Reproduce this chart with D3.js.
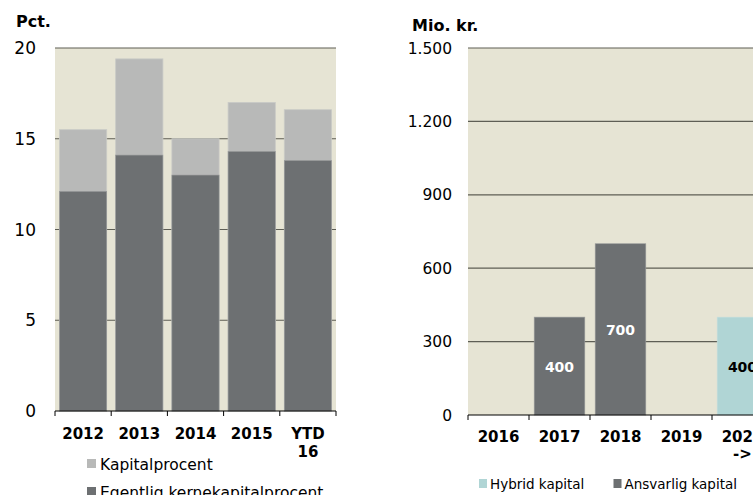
<!DOCTYPE html>
<html>
<head>
<meta charset="utf-8">
<style>
  body { margin: 0; background: #fff; }
  svg { display: block; font-family: "DejaVu Sans", Verdana, sans-serif; }
</style>
<script src="https://d3js.org/d3.v7.min.js"></script>
</head>
<body>
<svg id="chart" width="753" height="495"></svg>
<script>
  // left chart data
  var years = ["2012", "2013", "2014", "2015", "YTD 16"]
  var kapitalprocent = [15.5, 19.4, 15.0, 17.0, 16.6]
  var kernekapital = [12.1, 14.1, 13.0, 14.3, 13.8]
  var leftTicks = [0, 5, 10, 15, 20]

  // right chart data
  var expiry = ["2016", "2017", "2018", "2019", "2020 ->"]
  var hybrid = [0, 0, 0, 0, 400]
  var ansvarlig = [0, 400, 700, 0, 0]
  var rightTicks = [0, 300, 600, 900, 1200, 1500]

  var bg = "#e6e4d4", lightGrey = "#b8b9b8", darkGrey = "#6d7072", teal = "#b0d5d5", grid = "#5e5e55"

  var svg = d3.select("#chart")

  function multiLine(sel, lineH) {
    sel.each(function (d) {
      var t = d3.select(this), parts = d.split(" ")
      t.text(null)
      parts.forEach(function (p, i) {
        t.append("tspan").attr("x", 0).attr("dy", i == 0 ? 0 : lineH).text(p)
      })
    })
  }

  // ---------- left chart ----------
  var L = {x0: 55, x1: 336, y0: 411, y1: 48}
  var xl = d3.scaleBand().domain(years).range([L.x0, L.x1]).paddingInner(0.16).paddingOuter(0.08)
  var yl = d3.scaleLinear().domain([0, 20]).range([L.y0, L.y1])
  var gl = svg.append("g")

  gl.append("rect").attr("x", L.x0).attr("y", L.y1).attr("width", L.x1 - L.x0).attr("height", L.y0 - L.y1).attr("fill", bg)
  gl.selectAll(".grid").data(leftTicks.slice(1)).enter().append("line")
    .attr("x1", L.x0).attr("x2", L.x1).attr("y1", d => yl(d)).attr("y2", d => yl(d))
    .attr("stroke", grid).attr("stroke-width", 1.2)

  gl.selectAll(".tot").data(years).enter().append("rect")
    .attr("x", d => xl(d)).attr("width", xl.bandwidth())
    .attr("y", (d, i) => yl(kapitalprocent[i])).attr("height", (d, i) => yl(0) - yl(kapitalprocent[i]))
    .attr("fill", lightGrey).attr("stroke", "#c9cac6").attr("stroke-width", 0.8)
  gl.selectAll(".core").data(years).enter().append("rect")
    .attr("x", d => xl(d)).attr("width", xl.bandwidth())
    .attr("y", (d, i) => yl(kernekapital[i])).attr("height", (d, i) => yl(0) - yl(kernekapital[i]))
    .attr("fill", darkGrey).attr("stroke", "#9a9c9c").attr("stroke-width", 0.6)

  // y axis labels
  gl.selectAll(".ytick").data(leftTicks).enter().append("text")
    .attr("x", 36).attr("y", d => yl(d) + 6).attr("text-anchor", "end")
    .attr("font-size", 17).attr("fill", "#000").text(d => d)
  gl.append("text").attr("x", 16).attr("y", 27).attr("font-size", 16).attr("font-weight", "bold").text("Pct.")

  // x axis
  var xaxL = gl.append("g").attr("transform", "translate(0," + L.y0 + ")")
  xaxL.append("line").attr("x1", L.x0).attr("x2", L.x1).attr("stroke", "#000")
  var bl = d3.range(years.length + 1).map(i => L.x0 + i * (L.x1 - L.x0) / years.length)
  xaxL.selectAll(".tk").data(bl).enter().append("line")
    .attr("x1", d => d).attr("x2", d => d).attr("y1", 0).attr("y2", 5).attr("stroke", "#000")
  xaxL.selectAll(".lab").data(years).enter().append("g")
    .attr("transform", d => "translate(" + (xl(d) + xl.bandwidth() / 2) + ",27.5)")
    .append("text").attr("text-anchor", "middle").attr("font-size", 15).attr("font-weight", "bold")
    .call(multiLine, 18)

  // legend left
  var legL = [{name: "Kapitalprocent", c: lightGrey}, {name: "Egentlig kernekapitalprocent", c: darkGrey}]
  var lg = gl.selectAll(".leg").data(legL).enter().append("g")
    .attr("transform", (d, i) => "translate(87," + (459 + i * 28) + ")")
  lg.append("rect").attr("width", 9).attr("height", 9).attr("fill", d => d.c)
  lg.append("text").attr("x", 13).attr("y", 10.5).attr("font-size", 15.5).text(d => d.name)

  // ---------- right chart ----------
  var R = {x0: 468, y0: 415, y1: 48}
  var bandW = 61
  var xr = d3.scaleBand().domain(expiry).range([R.x0, R.x0 + bandW * expiry.length]).paddingInner(0.17).paddingOuter(0.085)
  var yr = d3.scaleLinear().domain([0, 1500]).range([R.y0, R.y1])
  var gr = svg.append("g")
  var R1 = R.x0 + bandW * expiry.length

  gr.append("rect").attr("x", R.x0).attr("y", R.y1).attr("width", R1 - R.x0).attr("height", R.y0 - R.y1).attr("fill", bg)
  gr.selectAll(".grid").data(rightTicks.slice(1)).enter().append("line")
    .attr("x1", R.x0).attr("x2", R1).attr("y1", d => yr(d)).attr("y2", d => yr(d))
    .attr("stroke", grid).attr("stroke-width", 1.2)

  var series = [{vals: ansvarlig, c: darkGrey, tc: "#fff", st: "#9a9c9c"}, {vals: hybrid, c: teal, tc: "#000", st: "#c6dedd"}]
  series.forEach(function (s) {
    var items = expiry.map((d, i) => ({cat: d, v: s.vals[i]})).filter(d => d.v > 0)
    gr.selectAll(null).data(items).enter().append("rect")
      .attr("x", d => xr(d.cat)).attr("width", xr.bandwidth())
      .attr("y", d => yr(d.v)).attr("height", d => yr(0) - yr(d.v))
      .attr("fill", s.c).attr("stroke", s.st).attr("stroke-width", 0.6)
    gr.selectAll(null).data(items).enter().append("text")
      .attr("x", d => xr(d.cat) + xr.bandwidth() / 2).attr("y", d => (yr(d.v) + yr(0)) / 2 + 5.5)
      .attr("text-anchor", "middle").attr("font-size", 14).attr("font-weight", "bold")
      .attr("fill", s.tc).text(d => d.v)
  })

  var fmt = d => d3.format(",")(d).replace(",", ".")
  gr.selectAll(".ytick").data(rightTicks).enter().append("text")
    .attr("x", 452).attr("y", d => yr(d) + 5.5).attr("text-anchor", "end")
    .attr("font-size", 15.5).attr("fill", "#000").text(fmt)
  gr.append("text").attr("x", 412).attr("y", 31).attr("font-size", 16).attr("font-weight", "bold").text("Mio. kr.")

  var xaxR = gr.append("g").attr("transform", "translate(0," + R.y0 + ")")
  xaxR.append("line").attr("x1", R.x0).attr("x2", R1).attr("stroke", "#000")
  var br = d3.range(expiry.length + 1).map(i => R.x0 + i * bandW)
  xaxR.selectAll(".tk").data(br).enter().append("line")
    .attr("x1", d => d).attr("x2", d => d).attr("y1", 0).attr("y2", 5).attr("stroke", "#000")
  xaxR.selectAll(".lab").data(expiry).enter().append("g")
    .attr("transform", d => "translate(" + (xr(d) + xr.bandwidth() / 2) + ",26.5)")
    .append("text").attr("text-anchor", "middle").attr("font-size", 15).attr("font-weight", "bold")
    .call(multiLine, 17)

  var legR = [{name: "Hybrid kapital", c: teal}, {name: "Ansvarlig kapital", c: darkGrey}]
  var rg = gr.selectAll(".leg").data(legR).enter().append("g")
    .attr("transform", (d, i) => "translate(" + (479 + i * 134.5) + ",479)")
  rg.append("rect").attr("width", 8).attr("height", 9).attr("fill", d => d.c)
  rg.append("text").attr("x", 11).attr("y", 10).attr("font-size", 13.5).text(d => d.name)
</script>
</body>
</html>
